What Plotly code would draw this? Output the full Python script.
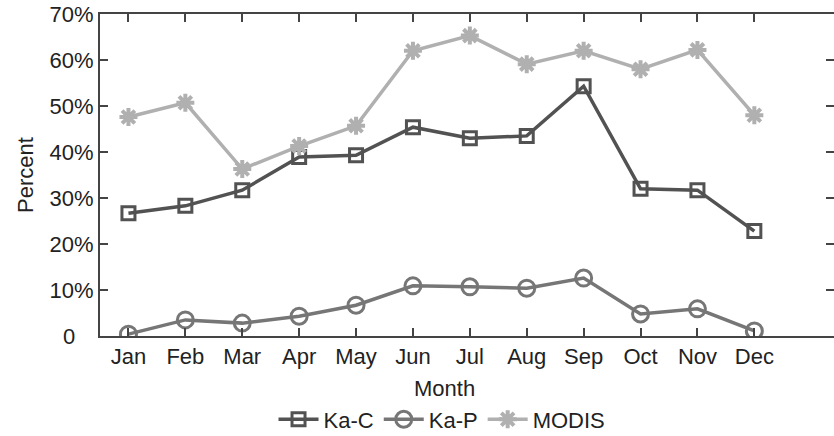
import plotly.graph_objects as go

months = ["Jan", "Feb", "Mar", "Apr", "May", "Jun", "Jul", "Aug", "Sep", "Oct", "Nov", "Dec"]
month_pos = list(range(1, 13))
ka_c = [26.7, 28.3, 31.7, 38.9, 39.3, 45.4, 43.0, 43.5, 54.3, 32.0, 31.7, 22.8]
ka_p = [0.4, 3.5, 2.8, 4.3, 6.7, 10.9, 10.7, 10.4, 12.6, 4.8, 5.9, 1.1]
modis = [47.6, 50.7, 36.3, 41.3, 45.7, 62.0, 65.3, 59.1, 62.0, 58.0, 62.2, 48.0]
y_ticks = [0, 10, 20, 30, 40, 50, 60, 70]
y_labels = ["0", "10%", "20%", "30%", "40%", "50%", "60%", "70%"]

NB = "\u00a0"
y_text = [lab + NB * 3 if lab == "0" else lab for lab in y_labels]

fig = go.Figure()
fig.add_trace(go.Scatter(x=month_pos, y=ka_c, name="Ka-C", mode="lines+markers",
                         line=dict(color="#525252", width=3.5),
                         marker=dict(symbol="square-open", size=13, color="#525252",
                                     line=dict(width=3, color="#525252"))))
fig.add_trace(go.Scatter(x=month_pos, y=ka_p, name="Ka-P", mode="lines+markers",
                         line=dict(color="#767676", width=3.5),
                         marker=dict(symbol="circle-open", size=16, color="#767676",
                                     line=dict(width=3, color="#767676"))))
fig.add_trace(go.Scatter(x=month_pos, y=modis, name="MODIS", mode="lines+markers",
                         line=dict(color="#b0b0b0", width=3.5),
                         marker=dict(symbol="asterisk-open", size=15, color="#b0b0b0",
                                     line=dict(width=4, color="#b0b0b0"))))

font_family = "Liberation Sans, Arial, sans-serif"
fig.update_layout(
    width=834, height=436,
    margin=dict(l=100, r=0, t=14, b=100),
    paper_bgcolor="white", plot_bgcolor="white",
    font=dict(family=font_family, size=22, color="#222222"),
    showlegend=True,
    legend=dict(orientation="h", xref="container", yref="container",
                x=0.53, xanchor="center", y=0.038, yanchor="middle",
                font=dict(size=22), itemwidth=40, tracegroupgap=0,
                bgcolor="rgba(0,0,0,0)"),
    xaxis=dict(range=[0.5, 13.4], tickmode="array", tickvals=month_pos, ticktext=months,
               showgrid=False, zeroline=False, showline=True, linecolor="#444444", linewidth=2,
               mirror="ticks", ticks="inside", ticklen=8, tickwidth=1.5, tickcolor="#444444",
               tickfont=dict(size=22), automargin=False),
    yaxis=dict(range=[0, 70], tickmode="array", tickvals=y_ticks, ticktext=y_text,
               showgrid=False, zeroline=False, showline=True, linecolor="#444444", linewidth=2,
               mirror="ticks", ticks="inside", ticklen=8, tickwidth=1.5, tickcolor="#444444",
               title=dict(text="Percent", font=dict(size=22), standoff=10),
               tickfont=dict(size=22), automargin=False),
    annotations=[dict(text="Month", xref="paper", yref="paper", x=0.47, y=-0.1615,
                      xanchor="center", yanchor="middle", showarrow=False,
                      font=dict(size=22, color="#222222"))],
)
fig.write_html("out.html")
